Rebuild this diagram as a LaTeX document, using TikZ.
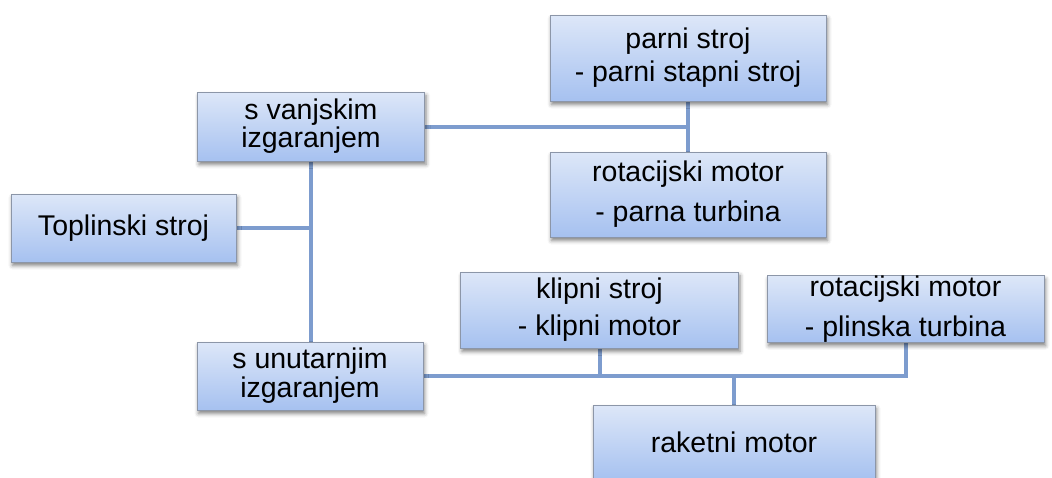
\documentclass[tikz,border=0pt]{standalone}
\usepackage{fontspec}
\setmainfont{Liberation Sans}
\usetikzlibrary{shadows.blur,backgrounds}
\definecolor{boxtop}{RGB}{221,231,248}
\definecolor{boxbot}{RGB}{166,193,240}
\definecolor{boxline}{RGB}{140,150,168}
\definecolor{conncol}{RGB}{125,156,206}
\newcommand\fsz[1]{\fontsize{28.5}{#1}\selectfont}
\tikzset{
  bx/.style={rectangle, draw=boxline, line width=1pt, top color=boxtop, bottom color=boxbot,
    inner sep=0pt, align=center, text=black,
    blur shadow={shadow xshift=1.5pt, shadow yshift=-3.5pt, shadow blur radius=4pt, shadow opacity=50}},
  conn/.style={draw=conncol, line width=4pt}
}
\begin{document}
\begin{tikzpicture}[x=1pt,y=-1pt]
\useasboundingbox (0,0) rectangle (1052,477);
\node[bx, minimum width=225, minimum height=68, font=\fsz{33}] (top) at (123.5,228) {Toplinski stroj};
\node[bx, minimum width=227, minimum height=69, font=\fsz{28}] (ext) at (311,126.5) {s vanjskim\\izgaranjem};
\node[bx, minimum width=276, minimum height=86, font=\fsz{33}] (parni) at (688,58) {parni stroj\\- parni stapni stroj};
\node[bx, minimum width=276, minimum height=85, font=\fsz{40}] (rotp) at (688,194.5) {rotacijski motor\\- parna turbina};
\node[bx, minimum width=278, minimum height=76, font=\fsz{37}] (klipni) at (599.5,310) {klipni stroj\\- klipni motor};
\node[bx, minimum width=277, minimum height=66, font=\fsz{40}] (plin) at (905.5,309) {rotacijski motor\\- plinska turbina};
\node[bx, minimum width=226, minimum height=68, font=\fsz{29}] (unu) at (310,376) {s unutarnjim\\izgaranjem};
\node[bx, minimum width=282, minimum height=75, font=\fsz{33}] (rak) at (734,442.5) {raketni motor};
\begin{pgfonlayer}{background}
\draw[conn] (top.east) -- (top.east -| ext.south);
\draw[conn] (ext.south) -- (ext.south |- unu.north);
\draw[conn] (ext.east) -- (ext.east -| parni.south);
\draw[conn] (parni.south) -- (rotp.north);
\draw[conn] (unu.east) -- (unu.east -| plin.south) -- (plin.south);
\draw[conn] (klipni.south) -- (klipni.south |- unu.east);
\draw[conn] (rak.north) -- (rak.north |- unu.east);
\end{pgfonlayer}
\end{tikzpicture}
\end{document}
